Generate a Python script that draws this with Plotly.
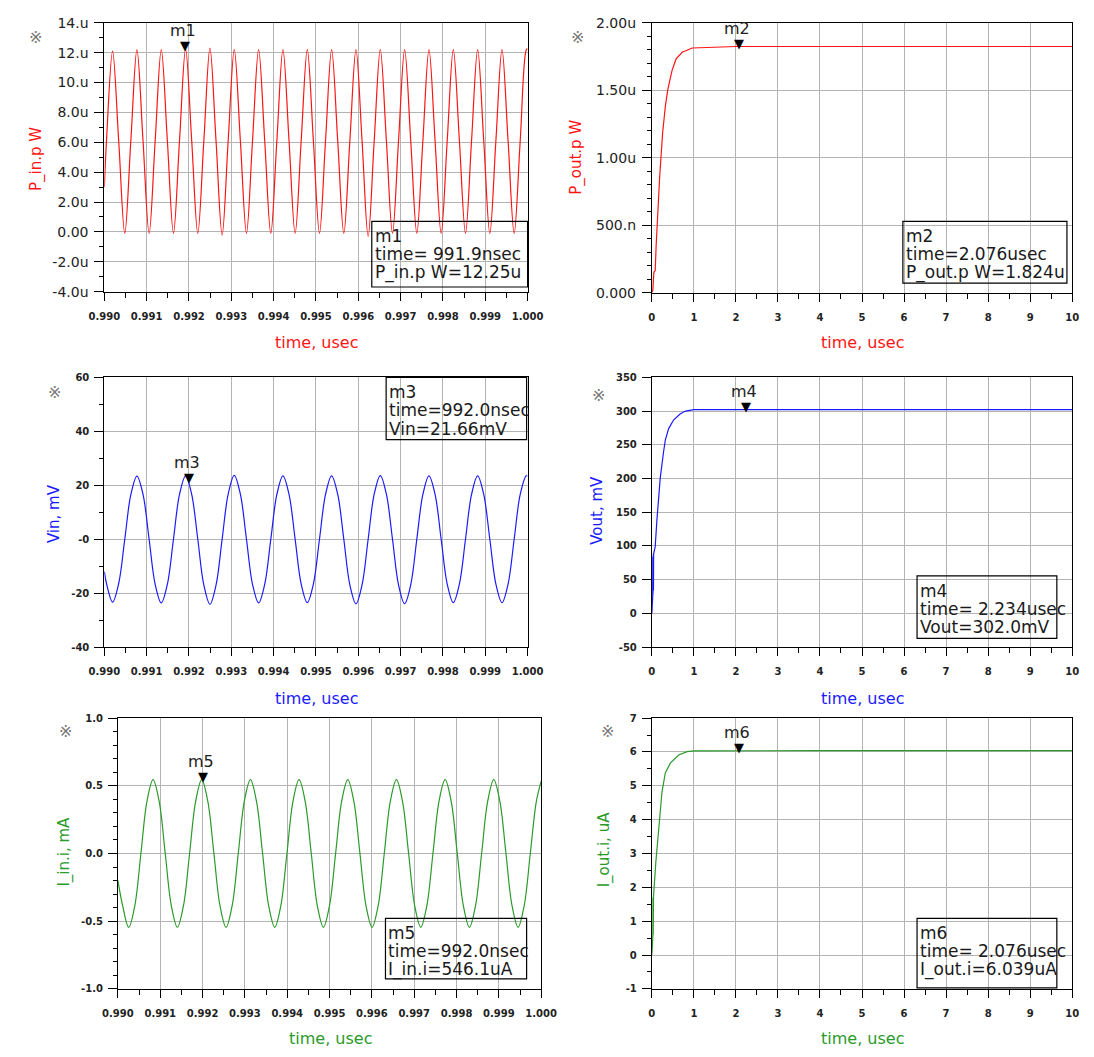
import plotly.graph_objects as go

# ---------------- data ----------------
# Left column: time window 990 ns .. 1000 ns (steady-state RF)
t_vin_ns = [
    990.000, 990.051, 990.195, 990.339, 990.483, 990.626,
    990.770, 990.914, 991.058, 991.201, 991.345, 991.489, 991.633, 991.776,
    991.920, 992.064, 992.208, 992.351, 992.495, 992.639, 992.783, 992.926,
    993.070, 993.214, 993.358, 993.501, 993.645, 993.789, 993.933, 994.076,
    994.220, 994.364, 994.508, 994.651, 994.795, 994.939, 995.083, 995.226,
    995.370, 995.514, 995.658, 995.801, 995.945, 996.089, 996.233, 996.376,
    996.520, 996.664, 996.808, 996.951, 997.095, 997.239, 997.383, 997.526,
    997.670, 997.814, 997.958, 998.101, 998.245, 998.389, 998.533, 998.676,
    998.820, 998.964, 999.108, 999.251, 999.395, 999.539, 999.683, 999.826,
    999.970, 1000.000]

vin_mv = [
    -12.0, -16.4, -23.3, -16.4, 0.0, 16.5,
    23.4, 16.6, 0.0, -16.7, -23.6, -16.7, 0.0, 16.6,
    23.5, 16.6, 0.0, -17.0, -24.1, -17.0, 0.0, 16.7,
    23.7, 16.7, 0.0, -16.7, -23.6, -16.7, 0.0, 16.6,
    23.5, 16.6, 0.0, -16.6, -23.5, -16.6, 0.0, 16.6,
    23.5, 16.6, 0.0, -16.9, -23.9, -16.9, 0.0, 16.7,
    23.6, 16.7, 0.0, -16.9, -23.9, -16.9, 0.0, 16.6,
    23.5, 16.6, 0.0, -16.6, -23.5, -16.6, 0.0, 16.6,
    23.5, 16.6, 0.0, -16.6, -23.5, -16.6, 0.0, 16.6,
    23.5, 23.4]

pin_uw = [
    3.0, 6.1, 12.1, 6.1, -0.1, 6.1,
    12.2, 6.1, -0.1, 6.1, 12.2, 6.1, -0.1, 6.1,
    12.25, 6.1, -0.1, 6.1, 12.3, 6.1, -0.2, 6.1,
    12.2, 6.1, -0.1, 6.1, 12.2, 6.1, -0.1, 6.1,
    12.2, 6.1, -0.1, 6.1, 12.2, 6.1, -0.1, 6.1,
    12.2, 6.1, -0.1, 6.1, 12.2, 6.1, -0.3, 6.1,
    12.2, 6.1, -0.1, 6.1, 12.2, 6.1, -0.1, 6.1,
    12.2, 6.1, -0.1, 6.1, 12.2, 6.1, -0.1, 6.1,
    12.2, 6.1, -0.1, 6.1, 12.2, 6.1, -0.1, 6.1,
    12.2, 12.25]

t_iin_ns = [
    990.000, 990.111, 990.255, 990.399, 990.543, 990.686,
    990.830, 990.974, 991.118, 991.261, 991.405, 991.549, 991.693, 991.836,
    991.980, 992.124, 992.268, 992.411, 992.555, 992.699, 992.843, 992.986,
    993.130, 993.274, 993.418, 993.561, 993.705, 993.849, 993.993, 994.136,
    994.280, 994.424, 994.568, 994.711, 994.855, 994.999, 995.143, 995.286,
    995.430, 995.574, 995.718, 995.861, 996.005, 996.149, 996.293, 996.436,
    996.580, 996.724, 996.868, 997.011, 997.155, 997.299, 997.443, 997.586,
    997.730, 997.874, 998.018, 998.161, 998.305, 998.449, 998.593, 998.736,
    998.880, 999.024, 999.168, 999.311, 999.455, 999.599, 999.743, 999.886,
    1000.000]

iin_ma = [
    -0.200, -0.385, -0.545, -0.385, 0.000, 0.385,
    0.545, 0.385, 0.000, -0.385, -0.545, -0.385, 0.000, 0.385,
    0.546, 0.385, 0.000, -0.385, -0.545, -0.385, 0.000, 0.385,
    0.545, 0.385, 0.000, -0.385, -0.545, -0.385, 0.000, 0.385,
    0.545, 0.385, 0.000, -0.385, -0.545, -0.385, 0.000, 0.385,
    0.545, 0.385, 0.000, -0.385, -0.545, -0.385, 0.000, 0.385,
    0.545, 0.385, 0.000, -0.385, -0.545, -0.385, 0.000, 0.385,
    0.545, 0.385, 0.000, -0.385, -0.545, -0.385, 0.000, 0.385,
    0.545, 0.385, 0.000, -0.385, -0.545, -0.385, 0.000, 0.385,
    0.535]

# Right column: start-up transient 0 .. 10 usec
t_pout_us = [0.0, 0.024, 0.048, 0.08, 0.104, 0.144, 0.184, 0.225, 0.257, 0.321,
             0.377, 0.481, 0.577, 0.722, 0.962, 2.0, 4.0, 6.0, 8.0, 10.0]
pout_uw = [0.0, 0.017, 0.151, 0.163, 0.358, 0.625, 0.844, 1.039, 1.185, 1.380,
           1.501, 1.647, 1.732, 1.781, 1.813, 1.824, 1.824, 1.824, 1.824, 1.824]

t_vout_us = [0.0, 0.020, 0.024, 0.027, 0.030, 0.033, 0.036, 0.039, 0.042, 0.08,
             0.12, 0.16, 0.20, 0.28, 0.32, 0.40, 0.52, 0.68, 0.80, 1.0, 2.0,
             4.0, 6.0, 8.0, 10.0]
vout_mv = [0.0, 24.0, 84.0, 28.0, 86.0, 30.0, 88.0, 34.0, 88.0, 99.0,
           138.0, 175.0, 201.0, 240.0, 257.0, 274.0, 287.0, 296.0, 300.0, 302.0, 302.0,
           302.0, 302.0, 302.0, 302.0]

t_iout_us = [0.0, 0.016, 0.024, 0.028, 0.032, 0.036, 0.04, 0.096, 0.16, 0.24,
             0.32, 0.44, 0.64, 0.84, 1.0, 2.0, 4.0, 6.0, 8.0, 10.0]
iout_ua = [0.0, 0.43, 0.55, 1.70, 0.60, 1.72, 1.74, 2.76, 3.73, 4.80,
           5.38, 5.67, 5.91, 6.01, 6.03, 6.039, 6.039, 6.039, 6.039, 6.039]

# markers (time in usec, value in plotted unit)
marker_names = ["m1", "m2", "m3", "m4", "m5", "m6"]
marker_t_us = [0.9919, 2.076, 0.9920, 2.234, 0.9920, 2.076]
marker_vals = [12.25, 1.824, 21.66, 302.0, 0.5461, 6.039]
marker_readouts = [
    ["m1", "time= 991.9nsec", "P_in.p W=12.25u"],
    ["m2", "time=2.076usec", "P_out.p W=1.824u"],
    ["m3", "time=992.0nsec", "Vin=21.66mV"],
    ["m4", "time= 2.234usec", "Vout=302.0mV"],
    ["m5", "time=992.0nsec", "I_in.i=546.1uA"],
    ["m6", "time= 2.076usec", "I_out.i=6.039uA"],
]

y_titles = ["P_in.p W", "P_out.p W", "Vin, mV", "Vout, mV", "I_in.i, mA", "I_out.i, uA"]
x_title = "time, usec"

ytick_vals = [
    [-4, -2, 0, 2, 4, 6, 8, 10, 12, 14],
    [0, 0.5, 1.0, 1.5, 2.0],
    [-40, -20, 0, 20, 40, 60],
    [-50, 0, 50, 100, 150, 200, 250, 300, 350],
    [-1.0, -0.5, 0.0, 0.5, 1.0],
    [-1, 0, 1, 2, 3, 4, 5, 6, 7],
]
ytick_text = [
    ["-4.0u", "-2.0u", "0.00", "2.0u", "4.0u", "6.0u", "8.0u", "10.u", "12.u", "14.u"],
    ["0.000", "500.n", "1.00u", "1.50u", "2.00u"],
    ["-40", "-20", "-0", "20", "40", "60"],
    ["-50", "0", "50", "100", "150", "200", "250", "300", "350"],
    ["-1.0", "-0.5", "0.0", "0.5", "1.0"],
    ["-1", "0", "1", "2", "3", "4", "5", "6", "7"],
]

# ---------------- layout constants ----------------
W, H = 1094, 1057
def fx(p):
    return p / W
def fy(p):
    return 1 - p / H

RED, BLUE, GREEN = "#ff1414", "#1a1aff", "#2a9a2a"
FONT = "DejaVu Sans"

# pixel boxes of the six plot areas: (left, right, top, bottom)
boxes = [
    (91, 527, 15, 288),
    (655, 1088, 15, 289),
    (91, 527, 375, 649),
    (655, 1088, 375, 649),
    (105, 541, 721, 996),
    (655, 1088, 721, 996),
]
y_ranges = [[-4, 14], [0, 2.0], [-40, 60], [-50, 350], [-1, 1], [-1, 7]]
y_minor = [1, 0.1, 10, None, 0.1, 0.5]
colors = [RED, RED, BLUE, BLUE, GREEN, GREEN]

series = [
    ([t / 1000 for t in t_vin_ns], pin_uw, "spline"),
    (t_pout_us, pout_uw, "linear"),
    ([t / 1000 for t in t_vin_ns], vin_mv, "spline"),
    (t_vout_us, vout_mv, "linear"),
    ([t / 1000 for t in t_iin_ns], iin_ma, "spline"),
    (t_iout_us, iout_ua, "linear"),
]

ytitle_pos = [(21, 153), (578, 152), (39, 513), (599, 510), (49, 857), (606, 855)]
xtitle_pos = [(310, 340), (872, 340), (310, 701), (872, 701), (324, 1046), (872, 1046)]
icon_pos = [(20, 30), (578, 30), (40, 390), (600, 393), (51, 735), (609, 735)]
readout_boxes = [
    (366.5, 527, 216.7, 283.3),
    (913.6, 1082.6, 216.7, 279.3),
    (381.3, 526, 375, 438.3),
    (928.2, 1072.2, 576.7, 640),
    (380.6, 526, 924.3, 985.7),
    (928.2, 1072.2, 924.3, 995),
]

fig = go.Figure()
annotations = []
shapes = []
layout_axes = {}

small_tick_font = dict(family=FONT, size=10, color="#222222", weight="bold")
big_tick_font = dict(family=FONT, size=14, color="#222222")
GRID = "#b4b4b4"

for i in range(6):
    n = i + 1
    xs = "x" if n == 1 else f"x{n}"
    ys = "y" if n == 1 else f"y{n}"
    xa = "xaxis" if n == 1 else f"xaxis{n}"
    ya = "yaxis" if n == 1 else f"yaxis{n}"
    l, r, t, b = boxes[i]
    left_col = (i % 2 == 0)

    xdict = dict(
        domain=[fx(l), fx(r)], anchor=ys,
        showline=True, linecolor="black", linewidth=1, mirror=True,
        showgrid=True, gridcolor=GRID, gridwidth=1, zeroline=False,
        ticks="outside", ticklen=8, tickcolor="black", tickwidth=1,
        tickfont=small_tick_font, ticklabelstandoff=7,
    )
    if left_col:
        xdict.update(range=[0.99, 1.0], tick0=0.99, dtick=0.001, tickformat=".3f",
                     minor=dict(tick0=0.99, dtick=0.0005, ticks="outside", ticklen=5,
                                tickcolor="black", showgrid=False))
    else:
        xdict.update(range=[0, 10], tick0=0, dtick=1,
                     minor=dict(tick0=0, dtick=0.5, ticks="outside", ticklen=5,
                                tickcolor="black", showgrid=False))
    layout_axes[xa] = xdict

    ydict = dict(
        domain=[fy(b), fy(t)], anchor=xs, range=y_ranges[i],
        showline=True, linecolor="black", linewidth=1, mirror=True,
        showgrid=True, gridcolor=GRID, gridwidth=1, zeroline=False,
        ticks="outside", ticklen=9, tickcolor="black", tickwidth=1,
        tickmode="array", tickvals=ytick_vals[i], ticktext=ytick_text[i],
        tickfont=big_tick_font if i < 2 else small_tick_font,
        ticklabelstandoff=3,
    )
    if y_minor[i]:
        ydict["minor"] = dict(tickmode="linear", tick0=y_ranges[i][0], dtick=y_minor[i],
                              ticks="outside", ticklen=4, tickcolor="black", showgrid=False)
    layout_axes[ya] = ydict

    sx, sy, shape = series[i]
    fig.add_trace(go.Scatter(x=sx, y=sy, mode="lines", xaxis=xs, yaxis=ys,
                             line=dict(color=colors[i], width=1.2, shape=shape),
                             hoverinfo="skip", showlegend=False))

    # axis titles
    px_, py_ = ytitle_pos[i]
    annotations.append(dict(x=fx(px_), y=fy(py_), xref="paper", yref="paper",
                            text=y_titles[i], textangle=-90, showarrow=False,
                            xanchor="center", yanchor="middle",
                            font=dict(family=FONT, size=15, color=colors[i])))
    px_, py_ = xtitle_pos[i]
    annotations.append(dict(x=fx(px_), y=fy(py_), xref="paper", yref="paper",
                            text=x_title, showarrow=False,
                            xanchor="center", yanchor="middle",
                            font=dict(family=FONT, size=16, color=colors[i])))
    # plot icon
    px_, py_ = icon_pos[i]
    annotations.append(dict(x=fx(px_), y=fy(py_), xref="paper", yref="paper",
                            text="※", showarrow=False, xanchor="center", yanchor="middle",
                            font=dict(family=FONT, size=16, color="#777777")))

    # marker triangle and name
    annotations.append(dict(x=marker_t_us[i], y=marker_vals[i], xref=xs, yref=ys,
                            text="▼", showarrow=False, xanchor="center", yanchor="bottom",
                            yshift=-6, font=dict(family=FONT, size=13, color="black")))
    annotations.append(dict(x=marker_t_us[i], y=marker_vals[i], xref=xs, yref=ys,
                            text=marker_names[i], showarrow=False, xanchor="center",
                            yanchor="bottom", yshift=7, xshift=-2,
                            font=dict(family=FONT, size=16, color="#222222")))

    # readout box
    bl, br, bt, bb = readout_boxes[i]
    shapes.append(dict(type="rect", xref="paper", yref="paper",
                       x0=fx(bl), x1=fx(br), y0=fy(bb), y1=fy(bt),
                       line=dict(color="black", width=1.2), fillcolor="rgba(0,0,0,0)"))
    for k, line_txt in enumerate(marker_readouts[i]):
        annotations.append(dict(x=fx(bl + 1), y=fy(bt + 15 + 18.5 * k),
                                xref="paper", yref="paper", text=line_txt,
                                showarrow=False, xanchor="left", yanchor="middle",
                                font=dict(family=FONT, size=17, color="#1a1a1a")))

fig.update_layout(
    width=W, height=H,
    margin=dict(l=0, r=0, t=0, b=0),
    paper_bgcolor="white", plot_bgcolor="white",
    showlegend=False,
    annotations=annotations,
    shapes=shapes,
    **layout_axes,
)

fig.write_html("out.html")
